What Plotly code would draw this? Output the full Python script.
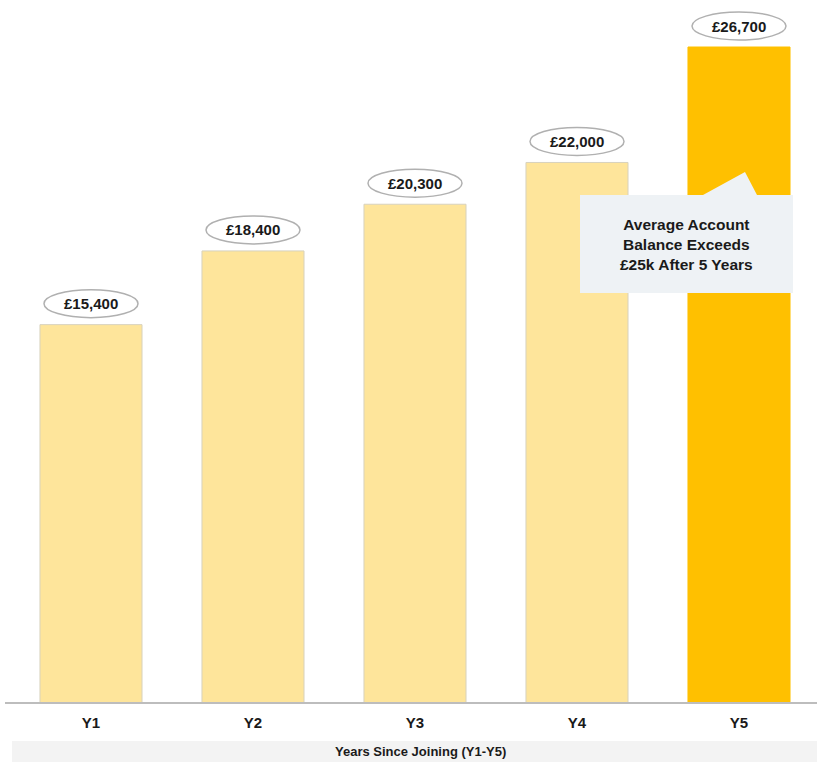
import plotly.graph_objects as go

# Average account balance by years since joining
categories = ["Y1", "Y2", "Y3", "Y4", "Y5"]
balances = [15400, 18400, 20300, 22000, 26700]
value_labels = ["£15,400", "£18,400", "£20,300", "£22,000", "£26,700"]
bar_colors = ["#FEE59B", "#FEE59B", "#FEE59B", "#FEE59B", "#FFC000"]
bar_edges = ["#D8D2BE", "#D8D2BE", "#D8D2BE", "#D8D2BE", "#FFC000"]
callout_text = "Average Account<br>Balance Exceeds<br>£25k After 5 Years"
axis_title = "Years Since Joining (Y1-Y5)"

W, H = 817, 762
ML, MR, MT, MB = 10, 0, 10, 59
plot_w = W - ML - MR
plot_h = H - MT - MB
FONT = "Liberation Sans, Arial, sans-serif"

xpos = list(range(len(categories)))

fig = go.Figure(
    go.Bar(
        x=xpos,
        y=balances,
        width=0.63,
        marker=dict(color=bar_colors, line=dict(color=bar_edges, width=1)),
        hoverinfo="skip",
    )
)


def px_to_paper(px, py):
    """Convert page pixel coordinates to paper coordinates."""
    return (px - ML) / plot_w, (H - MB - py) / plot_h


shapes = []
annotations = []

# Oval value badges sitting above each bar
for i, (v, lab) in enumerate(zip(balances, value_labels)):
    shapes.append(dict(
        type="circle", xref="x", yref="y",
        xsizemode="pixel", xanchor=i, x0=-47, x1=47,
        ysizemode="pixel", yanchor=v, y0=7, y1=35,
        fillcolor="white", line=dict(color="#B0B0B0", width=1.5),
    ))
    annotations.append(dict(
        x=i, y=v, xref="x", yref="y", text=lab, showarrow=False,
        yshift=21, font=dict(family=FONT, size=15, color="#1A1A1A", weight="bold"),
    ))

# Callout box with a pointer towards the final bar
pts = [(580, 195), (703, 195), (745, 172), (757, 195), (793, 195), (793, 293), (580, 293)]
paper_pts = [px_to_paper(x, y) for x, y in pts]
path = "M " + " L ".join(f"{x:.5f},{y:.5f}" for x, y in paper_pts) + " Z"
shapes.append(dict(type="path", xref="paper", yref="paper", path=path,
                   fillcolor="#EEF2F5", line=dict(width=0)))
cx, cy = px_to_paper(686.5, 244.5)
annotations.append(dict(
    x=cx, y=cy, xref="paper", yref="paper", text=callout_text, showarrow=False,
    align="center", xanchor="center", yanchor="middle",
    font=dict(family=FONT, size=15.5, color="#1A1A1A", weight="bold"),
))

# Axis title strip
sx0, sy0 = px_to_paper(12, 762)
sx1, sy1 = px_to_paper(817, 741)
shapes.append(dict(type="rect", xref="paper", yref="paper",
                   x0=sx0, x1=sx1, y0=sy0, y1=sy1,
                   fillcolor="#F3F3F3", line=dict(width=0)))
tx, ty = px_to_paper(420, 751.5)
annotations.append(dict(
    x=tx, y=ty, xref="paper", yref="paper", text=axis_title, showarrow=False,
    xanchor="center", yanchor="middle",
    font=dict(family=FONT, size=13, color="#1A1A1A", weight="bold"),
))

# Baseline
bx0, by = px_to_paper(5, 703)
shapes.append(dict(type="line", xref="paper", yref="paper",
                   x0=bx0, x1=1, y0=by, y1=by,
                   line=dict(color="#BDBDBD", width=2)))

fig.update_layout(
    width=W, height=H,
    margin=dict(l=ML, r=MR, t=MT, b=MB),
    paper_bgcolor="white", plot_bgcolor="white",
    showlegend=False,
    shapes=shapes,
    annotations=annotations,
    xaxis=dict(
        tickmode="array", tickvals=xpos, ticktext=categories,
        range=[-0.5, -0.5 + plot_w / 162],
        showgrid=False, zeroline=False, showline=False,
        ticks="", ticklabelstandoff=9,
        tickfont=dict(family=FONT, size=15, color="#1A1A1A", weight="bold"),
        fixedrange=True,
    ),
    yaxis=dict(
        range=[0, 26700 / 656 * plot_h],
        visible=False, showgrid=False, zeroline=False, fixedrange=True,
    ),
)

fig.write_html("out.html")
